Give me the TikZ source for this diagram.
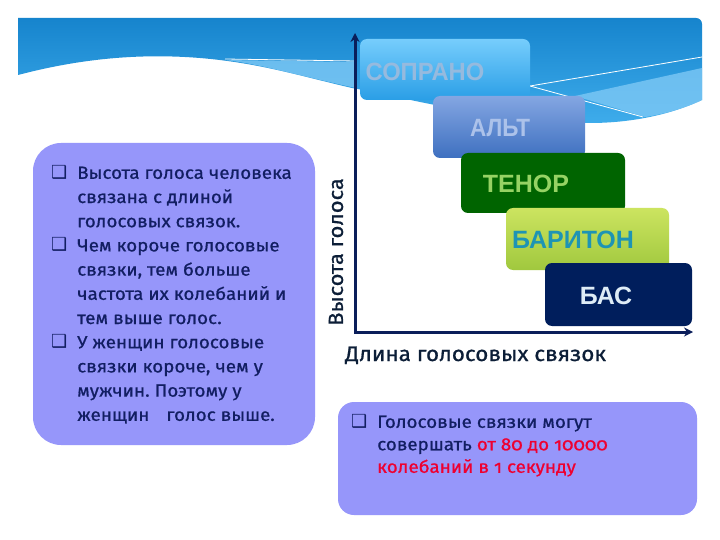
\documentclass[tikz,border=0pt]{standalone}
\usepackage{fontspec}
\setmainfont{Fira Sans}[Numbers=OldStyle, FakeStretch=1.07, FakeBold=0.8]
\newfontfamily\symfont{DejaVu Sans}
\newfontfamily\boxfont{Liberation Sans}
\usetikzlibrary{arrows.meta}
\frenchspacing
\definecolor{bandtop}{RGB}{22,132,205}
\definecolor{bandbot}{RGB}{62,172,235}
\definecolor{bandlight}{RGB}{125,200,245}
\definecolor{soptop}{RGB}{118,205,252}
\definecolor{sopbot}{RGB}{42,158,230}
\definecolor{soptext}{RGB}{150,186,222}
\definecolor{alttop}{RGB}{132,166,226}
\definecolor{altbot}{RGB}{62,112,192}
\definecolor{alttext}{RGB}{172,194,234}
\definecolor{tengreen}{RGB}{0,100,0}
\definecolor{tentext}{RGB}{150,210,100}
\definecolor{bartop}{RGB}{204,228,96}
\definecolor{barbot}{RGB}{160,200,62}
\definecolor{bartext}{RGB}{30,148,180}
\definecolor{basnavy}{RGB}{0,30,92}
\definecolor{bastext}{RGB}{222,236,246}
\definecolor{axisnavy}{RGB}{10,30,90}
\definecolor{lbltext}{RGB}{12,30,55}
\definecolor{panel}{RGB}{150,150,250}
\definecolor{paneltext}{RGB}{18,30,98}
\definecolor{redtext}{RGB}{238,0,48}
\newcommand{\bul}{\makebox[26pt][l]{\raisebox{0.5pt}{\symfont\fontsize{18}{18}\selectfont ❑}}}
\newcommand{\ind}{\hspace*{26pt}}
\tikzset{
  vbox/.style={rounded corners=7pt, inner sep=0pt},
  vtext/.style={font=\boxfont\bfseries\fontsize{25}{25}\selectfont, inner sep=0pt},
  panelbox/.style={fill=panel},
  paneltxt/.style={anchor=north west, inner sep=0pt, align=left, text=paneltext},
  axisline/.style={draw=axisnavy, line width=3pt, {Stealth[length=9pt,width=9pt]}-{Stealth[length=9pt,width=9pt]}}
}
\begin{document}
\begin{tikzpicture}[x=1pt,y=-1pt]
\useasboundingbox (0,0) rectangle (720,540);
\fill[white] (0,0) rectangle (720,540);
% header band
\shade[top color=bandtop, bottom color=bandbot]
  (18,18) -- (696,18) to[out=0,in=90] (702,24) -- (702,100)
  .. controls (670,115) and (630,123) .. (590,123)
  .. controls (520,122) and (470,112) .. (430,104)
  .. controls (400,98) and (375,92) .. (352,88)
  .. controls (300,76) and (260,63) .. (200,58)
  .. controls (150,54) and (90,56) .. (18,75) -- cycle;
\fill[bandlight, opacity=0.8] (225,60) -- (356,62) -- (356,88)
  .. controls (300,76) and (260,64) .. (225,60) -- cycle;
\fill[bandlight, opacity=0.8] (575,96) -- (702,68) -- (702,100)
  .. controls (685,108) and (665,114) .. (645,117) -- cycle;
\draw[white, line width=0.8pt] (225,59) -- (356,61);
\draw[white, line width=0.8pt] (530,86) -- (702,57);
\draw[white, line width=0.8pt] (530,86) -- (643,117);
% voice boxes
\node[vbox, top color=soptop, bottom color=sopbot, minimum width=170pt, minimum height=61pt] (sop) at (445,69.5) {};
\node[vtext, text=soptext, xscale=0.95] (soplbl) at (425,72) {СОПРАНО};
\node[vbox, top color=alttop, bottom color=altbot, minimum width=152pt, minimum height=62pt] (alt) at (509,127) {};
\node[vtext, text=alttext, xscale=0.9] (altlbl) at (500,128) {АЛЬТ};
\node[vbox, fill=tengreen, minimum width=164pt, minimum height=60pt] (ten) at (543,183) {};
\node[vtext, text=tentext] (tenlbl) at (526,184) {ТЕНОР};
\node[vbox, top color=bartop, bottom color=barbot, minimum width=163pt, minimum height=62pt] (bar) at (587.5,239) {};
\node[vtext, text=bartext] (barlbl) at (573,240) {БАРИТОН};
\node[vbox, fill=basnavy, minimum width=147pt, minimum height=63pt] (bas) at (618.5,294.5) {};
\node[vtext, text=bastext] (baslbl) at (606,296) {БАС};
% axes
\coordinate (ytop) at (355,33);
\coordinate (xend) at (693,332);
\draw[axisline] (ytop) |- (xend);
\node[rotate=90, text=lbltext, font=\fontsize{20.5}{20.5}\selectfont, inner sep=0pt] (ylbl) at (336,252) {Высота голоса};
\node[anchor=base west, text=lbltext, font=\fontsize{21}{21}\selectfont, inner sep=0pt] (xlbl) at (345,361) {Длина голосовых связок};
% left panel
\path[panelbox, rounded corners=28pt] (33,143) rectangle (315,445);
\node[paneltxt, font=\fontsize{17.6}{24.2}\selectfont] (lefttxt) at (51,165) {%
\bul Высота голоса человека\\
\ind связана с длиной\\
\ind голосовых связок.\\
\bul Чем короче голосовые\\
\ind связки, тем больше\\
\ind частота их колебаний и\\
\ind тем выше голос.\\
\bul У женщин голосовые\\
\ind связки короче, чем у\\
\ind мужчин. Поэтому у\\
\ind женщин\hspace{12pt} голос выше.};
% bottom panel
\path[panelbox, rounded corners=16pt] (338,402) rectangle (697,515);
\node[paneltxt, font=\fontsize{17.6}{22.5}\selectfont] (bottxt) at (351,414) {%
\bul Голосовые связки могут\\
\ind совершать \textcolor{redtext}{от 80 до 10000}\\
\ind \textcolor{redtext}{колебаний в 1 секунду}};
\end{tikzpicture}
\end{document}
